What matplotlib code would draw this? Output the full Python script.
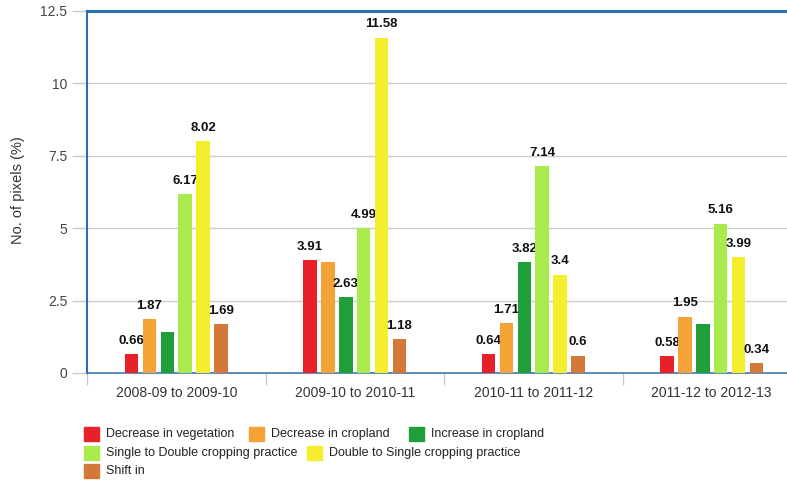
import numpy as np
import matplotlib
matplotlib.use("Agg")
import matplotlib.pyplot as plt
from matplotlib.patches import Rectangle

# data -------------------------------------------------------------

periods = ["2008-09 to 2009-10", "2009-10 to 2010-11",
           "2010-11 to 2011-12", "2011-12 to 2012-13"]

classes = ["Decrease in vegetation", "Decrease in cropland",
           "Increase in cropland", "Single to Double cropping practice",
           "Double to Single cropping practice", "Shift in"]

decrease_veg = [0.66, 3.91, 0.64, 0.58]
decrease_crop = [1.87, 3.85, 1.71, 1.95]
increase_crop = [1.43, 2.63, 3.82, 1.68]
single_to_double = [6.17, 4.99, 7.14, 5.16]
double_to_single = [8.02, 11.58, 3.4, 3.99]
shift_in = [1.69, 1.18, 0.6, 0.34]

# which bars carry a value label
labelled = [
    [True, True, True, True],
    [True, False, True, True],
    [False, True, True, False],
    [True, True, True, True],
    [True, True, True, True],
    [True, True, True, True],
]

yticks = [0, 2.5, 5, 7.5, 10, 12.5]

# ------------------------------------------------------------------

series = [decrease_veg, decrease_crop, increase_crop,
          single_to_double, double_to_single, shift_in]
colors = ["#e8202a", "#f5a236", "#1f9e3a", "#a9ea4c", "#f4ee2e", "#d4783a"]
blue = "#2c6fae"

plt.rcParams["font.family"] = ["Liberation Sans", "DejaVu Sans"]

fig = plt.figure(figsize=(7.87, 4.82), dpi=100)
W, H = 787, 482
ax = fig.add_axes([87 / W, (H - 373) / H, 714 / W, 362 / H])

x = np.arange(len(periods))
step, width = 0.1, 0.075
for i, (vals, col) in enumerate(zip(series, colors)):
    pos = x + (i - 2.5) * step
    ax.bar(pos, vals, width=width, color=col, zorder=3)
    for xp, v, show in zip(pos, vals, labelled[i]):
        if show:
            ax.annotate(f"{v:g}", (xp, v), xytext=(0, 9.5),
                        textcoords="offset points", ha="center", va="center",
                        fontsize=9.5, fontweight="bold", color="#111111")

ax.set_xlim(-0.5, 3.5)
ax.set_ylim(0, 12.5)
ax.set_yticks(yticks)
ax.set_yticklabels([f"{t:g}" for t in yticks])
ax.yaxis.grid(True, color="#cccccc", linewidth=1, zorder=0)
ax.tick_params(axis="y", length=10.8, width=1, color="#c8c8c8",
               pad=3.5, labelsize=10, labelcolor="#444444")

ax.set_xticks(x)
ax.set_xticklabels(periods)
ax.set_xticks(np.arange(-0.5, 4, 1), minor=True)
ax.tick_params(axis="x", which="major", length=0, pad=9.5,
               labelsize=10, labelcolor="#333333")
ax.tick_params(axis="x", which="minor", length=8.6, width=1, color="#c8c8c8")

ax.spines["right"].set_visible(False)
ax.spines["top"].set_color(blue)
ax.spines["top"].set_linewidth(2.2)
ax.spines["left"].set_color(blue)
ax.spines["left"].set_linewidth(1.5)
ax.spines["bottom"].set_color(blue)
ax.spines["bottom"].set_linewidth(1.1)

fig.text(18 / W, (H - 190) / H, "No. of pixels (%)", rotation=90,
         ha="center", va="center", fontsize=10.5, color="#333333")

# legend laid out in rows below the plot
legend_pos = [(84, 434), (249, 434), (409, 434),
              (84, 453), (307, 453), (84, 471)]
for (px, py), name, col in zip(legend_pos, classes, colors):
    fig.add_artist(Rectangle((px / W, (H - py - 7) / H), 15 / W, 14 / H,
                             transform=fig.transFigure, color=col))
    fig.text((px + 22) / W, (H - py) / H, name, ha="left", va="center",
             fontsize=9, color="#222222")

fig.savefig("out.png", dpi=100)
